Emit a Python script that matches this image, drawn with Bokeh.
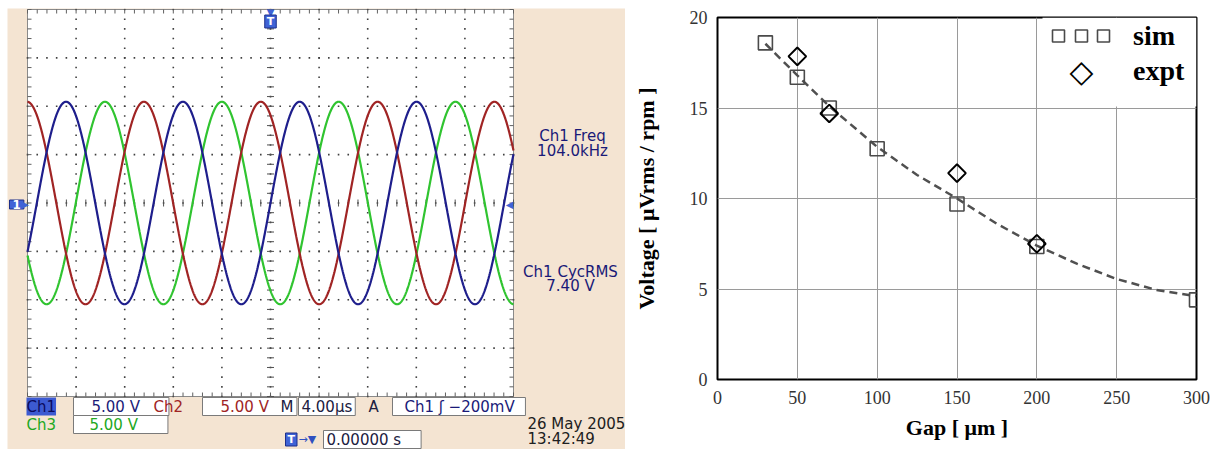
import numpy as np
from bokeh.plotting import figure
from bokeh.models import Range1d, Label, Legend, LegendItem, BoxAnnotation
from bokeh.layouts import row
from bokeh.embed import file_html
from bokeh.resources import INLINE

# ---------------- data: oscilloscope capture (readouts on the screen) ----------------
ch_names = ["Ch1", "Ch2", "Ch3"]
ch_colors = ["#1e1e8c", "#a02424", "#30c430"]
ch_text_colors = ["#1a1a78", "#a02424", "#22a822"]
ch_phase_deg = [0, 120, -120]          # phase of each trace, read from the peak positions
ch_volts_per_div = [5.00, 5.00, 5.00]
freq_khz = 104.0
cyc_rms_v = 7.40
time_per_div_us = 4.00
n_div_x = 10
n_div_y = 8
readout_freq = "104.0kHz"
readout_rms = "7.40 V"
readout_trigger = "Ch1  ʃ −200mV"
readout_delay = "0.00000 s"
readout_date = "26 May 2005"
readout_time = "13:42:49"

# ---------------- data: voltage vs gap ----------------
sim_gap = [30, 50, 70, 100, 150, 200, 300]
sim_volt = [18.6, 16.7, 15.0, 12.75, 9.7, 7.35, 4.4]
expt_gap = [50, 70, 150, 200]
expt_volt = [17.85, 14.7, 11.4, 7.5]
fit_gap = [30, 50, 70, 100, 125, 150, 175, 200, 225, 250, 275, 300]
fit_volt = [18.55, 16.8, 15.1, 12.85, 11.3, 10.0, 8.6, 7.4, 6.4, 5.55, 4.95, 4.6]
gap_ticks = [0, 50, 100, 150, 200, 250, 300]
volt_ticks = [0, 5, 10, 15, 20]

# =====================================================================================
# Left: oscilloscope screen
# =====================================================================================
PX0, PY0 = 7, 8                  # page position of the scope picture
W1, H1 = 618, 441
FL, FT, FW, FH = 27, 9, 486, 387  # screen (graticule) position on the page, px
half_t = time_per_div_us * n_div_x / 2
half_v = ch_volts_per_div[0] * n_div_y / 2

BEIGE = "#f4e4d2"
NAVY = "#1a1a78"


def sx(px):
    return -half_t + (px - FL) * (2 * half_t) / FW


def sy(py):
    return half_v - (py - FT) * (2 * half_v) / FH


scope = figure(width=W1, height=H1,
               x_range=Range1d(sx(PX0), sx(PX0 + W1)), y_range=Range1d(sy(PY0 + H1), sy(PY0)),
               x_axis_type=None, y_axis_type=None,
               output_backend="svg", toolbar_location=None,
               min_border_left=0, min_border_right=0, min_border_top=0, min_border_bottom=0,
               background_fill_color=BEIGE, border_fill_color=BEIGE)
scope.outline_line_color = None
scope.margin = (PY0, 0, 0, PX0)
scope.frame_align = False

# screen area
scope.quad(left=[-half_t], right=[half_t], bottom=[-half_v], top=[half_v],
           fill_color="white", line_color="#8a8a8a", line_width=1)

# graticule
minor_t = time_per_div_us / 5
minor_v = ch_volts_per_div[0] / 5
xs_minor = np.arange(-half_t, half_t + 1e-9, minor_t)
ys_minor = np.arange(-half_v, half_v + 1e-9, minor_v)
x_major = np.arange(-half_t, half_t + 1e-9, time_per_div_us)
y_major = np.arange(-half_v, half_v + 1e-9, ch_volts_per_div[0])

dx, dy = [], []
for yv in y_major[1:-1]:
    dx.extend(xs_minor)
    dy.extend([yv] * len(xs_minor))
for xv in x_major[1:-1]:
    dx.extend([xv] * len(ys_minor))
    dy.extend(ys_minor)
scope.scatter(dx, dy, marker="square", size=1.6, fill_color="#404040", line_color=None)

zx = np.zeros(len(xs_minor))
zy = np.zeros(len(ys_minor))
scope.scatter(xs_minor, zx, marker="dash", angle=np.pi / 2, size=7, line_color="#505050", line_width=1)
scope.scatter(zy, ys_minor, marker="dash", size=7, line_color="#505050", line_width=1)

tl_v = 4 * (2 * half_v) / FH
tl_t = 4 * (2 * half_t) / FW
scope.segment(x0=xs_minor, y0=zx - half_v, x1=xs_minor, y1=zx - half_v + tl_v, line_color="#606060")
scope.segment(x0=xs_minor, y0=zx + half_v, x1=xs_minor, y1=zx + half_v - tl_v, line_color="#606060")
scope.segment(x0=zy - half_t, y0=ys_minor, x1=zy - half_t + tl_t, y1=ys_minor, line_color="#606060")
scope.segment(x0=zy + half_t, y0=ys_minor, x1=zy + half_t - tl_t, y1=ys_minor, line_color="#606060")

# traces
t_us = np.linspace(-half_t, half_t, 1601)
amp = cyc_rms_v * np.sqrt(2)
for name, col, ph in reversed(list(zip(ch_names, ch_colors, ch_phase_deg))):
    v = amp * np.sin(2 * np.pi * freq_khz * 1e-3 * t_us + np.radians(ph))
    scope.line(t_us, v, line_color=col, line_width=2.2)

FONT = "DejaVu Sans"


def slabel(px, py, text, color=NAVY, size="15px", align="left", bg=None, border=None,
           pad=None, style="normal"):
    kw = dict(x=sx(px), y=sy(py), text=text, text_color=color, text_font=FONT,
              text_font_size=size, text_align=align, text_baseline="middle",
              text_font_style=style)
    if bg is not None:
        kw["background_fill_color"] = bg
    if border is not None:
        kw["border_line_color"] = border
    if pad is not None:
        kw["padding"] = pad
    scope.add_layout(Label(**kw))


# measurement readouts (right side)
slabel(572, 135, f"{ch_names[0]} Freq", align="center")
slabel(572, 150, readout_freq, align="center")
slabel(570, 271, f"{ch_names[0]} CycRMS", align="center")
slabel(570, 285, readout_rms, align="center")

# bottom status bar
r1, r2, r3 = 406, 424, 439
BOX = "#7a7a7a"
slabel(26, r1, ch_names[0], color="#0b0b5e", bg="#3c5ad2", pad=dict(left=0, right=0, top=0, bottom=0))
slabel(73, r1, f"{ch_volts_per_div[0]:.2f} V", color=ch_text_colors[0], bg="white", border=BOX,
       pad=dict(left=18, right=29, top=0, bottom=0))
slabel(153, r1, ch_names[1], color=ch_text_colors[1])
slabel(202, r1, f"{ch_volts_per_div[1]:.2f} V", color=ch_text_colors[1], bg="white", border=BOX,
       pad=dict(left=18, right=28, top=0, bottom=0))
slabel(280, r1, "M", color="#202040")
slabel(298, r1, f"{time_per_div_us:.2f}μs", color="#202040", bg="white", border=BOX,
       pad=dict(left=3, right=3, top=0, bottom=0))
slabel(368, r1, "A", color="#202040")
slabel(392, r1, readout_trigger, color=NAVY, bg="white", border=BOX,
       pad=dict(left=12, right=6, top=0, bottom=0))
slabel(26, r2, ch_names[2], color=ch_text_colors[2])
slabel(73, r2, f"{ch_volts_per_div[2]:.2f} V", color=ch_text_colors[2], bg="white", border=BOX,
       pad=dict(left=16, right=30, top=0, bottom=0))
slabel(285, r3, "T", color="white", size="11px", style="bold", bg="#3f63d6", border="#1d2f8a",
       pad=dict(left=2, right=2, top=0, bottom=0))
slabel(298, r3, "→▼", color="#3050c0", size="11px")
slabel(323, r3, readout_delay, color="#202040", bg="white", border=BOX,
       pad=dict(left=3, right=20, top=0, bottom=0))
slabel(527, 423, readout_date, color="#202020")
slabel(527, 438, readout_time, color="#202020")

# channel / trigger markers
slabel(9, 204, "1", color="white", size="12px", style="bold", bg="#3f63d6", border="#1d2f8a",
       pad=dict(left=3, right=3, top=0, bottom=0))
slabel(20, 204, "▶", color="#3f63d6", size="11px")
slabel(270, 12, "▼", color="#3f63d6", size="10px", align="center")
slabel(270, 21, "T", color="white", size="11px", style="bold", align="center", bg="#3f63d6",
       border="#1d2f8a", pad=dict(left=2, right=2, top=0, bottom=0))
slabel(513, 204, "◀", color="#3f63d6", size="10px", align="right")

# =====================================================================================
# Right: voltage vs gap
# =====================================================================================
W2, H2 = 598, 449
GL, GT, GR, GB = 717, 17, 1196, 379   # frame on the page, px
SERIF = "Liberation Serif"
gp = figure(width=W2, height=H2, x_range=Range1d(0, 300), y_range=Range1d(0, 20),
            output_backend="svg", toolbar_location=None,
            min_border_left=GL - (PX0 + W1), min_border_right=(PX0 + W1 + W2) - GR,
            min_border_top=GT, min_border_bottom=H2 - GB,
            background_fill_color="white", border_fill_color="white")
gp.frame_align = False
gp.outline_line_color = "black"
gp.outline_line_width = 2


def gx(px):
    return (px - GL) * 300 / (GR - GL)


def gv(py):
    return (GB - py) * 20 / (GB - GT)


gp.xgrid.ticker = gap_ticks
gp.ygrid.ticker = volt_ticks
for g in (gp.xgrid[0], gp.ygrid[0]):
    g.grid_line_color = "#9a9a9a"
    g.grid_line_width = 1

# white legend background (covers the grid behind the legend)
gp.add_layout(BoxAnnotation(left=gx(1042), right=gx(GR), bottom=gv(106), top=gv(GT),
                            fill_color="white", fill_alpha=1, line_color=None, level="underlay"))

gp.xaxis.ticker = gap_ticks
gp.yaxis.ticker = volt_ticks
for ax in (gp.xaxis[0], gp.yaxis[0]):
    ax.axis_line_color = None
    ax.major_tick_line_color = None
    ax.minor_tick_line_color = None
    ax.major_tick_out = 0
    ax.major_tick_in = 0
    ax.major_label_text_font = SERIF
    ax.major_label_text_font_size = "18px"
    ax.major_label_text_color = "#333333"
    ax.axis_label_text_font = SERIF
    ax.axis_label_text_font_style = "bold"
    ax.axis_label_text_font_size = "22px"
    ax.axis_label_text_color = "black"
gp.xaxis.axis_label = "Gap [ μm ]"
gp.yaxis.axis_label = "Voltage [ μVrms / rpm ]"
gp.xaxis.major_label_standoff = 11
gp.xaxis.axis_label_standoff = 8
gp.yaxis.major_label_standoff = 10
gp.yaxis.axis_label_standoff = 28

gp.line(fit_gap, fit_volt, line_dash="8 5", line_width=2.5, line_color="#505050")
r_sim = gp.scatter(sim_gap, sim_volt, marker="square", size=14, fill_color=None,
                   line_color="#4a4a4a", line_width=1.6)
r_expt = gp.scatter(expt_gap, expt_volt, marker="square", angle=np.pi / 4, size=12.5,
                    fill_color=None, line_color="black", line_width=2)
# legend key for "expt" is drawn as a diamond symbol below (legend glyphs ignore angle)
r_expt_key = gp.scatter([], [], marker="square", fill_alpha=0, line_alpha=0)

common = dict(glyph_width=30, glyph_height=35, padding=0, spacing=0, margin=0,
              label_height=35, label_text_font=SERIF, label_text_font_style="bold",
              label_text_font_size="28px", label_text_color="black", border_line_color=None,
              background_fill_alpha=0)
main_leg = Legend(items=[LegendItem(label="sim", renderers=[r_sim]),
                         LegendItem(label="expt", renderers=[r_expt_key])],
                  location=(349, 291), label_standoff=37, **common)
gp.add_layout(main_leg)
for lx in (326, 371):
    extra = Legend(items=[LegendItem(label=" ", renderers=[r_sim])], location=(lx, 326),
                   label_standoff=0, label_width=0, **common)
    gp.add_layout(extra)
gp.add_layout(Label(x=gx(1081), y=gv(70), text="◇", text_font="DejaVu Sans",
                    text_font_style="bold", text_font_size="31px", text_color="black",
                    text_align="center", text_baseline="middle"))

layout = row(scope, gp)
open("out.html", "w").write(file_html(layout, INLINE))
